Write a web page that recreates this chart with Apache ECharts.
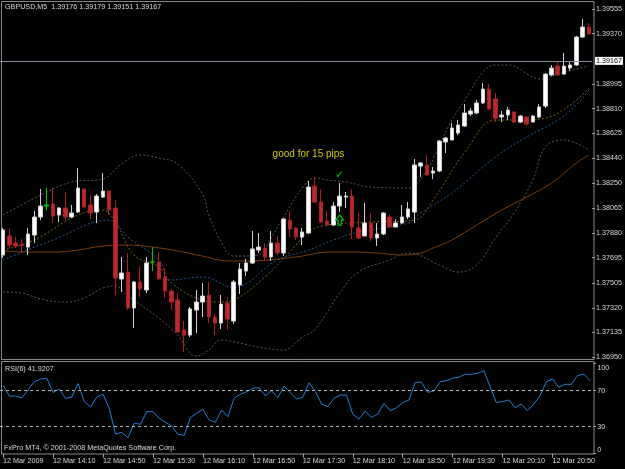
<!DOCTYPE html>
<html><head><meta charset="utf-8">
<script src="https://cdn.jsdelivr.net/npm/echarts@6/dist/echarts.min.js"></script>
<style>html,body{margin:0;padding:0;background:#000}#c{width:625px;height:469px}</style>
</head><body><div id="c"></div>
<script>
const open = [1.37715,1.37857,1.37804,1.37797,1.37774,1.37864,1.37999,1.38081,1.38096,1.38014,
1.38066,1.37999,1.38036,1.38208,1.38089,1.38036,1.38148,1.38193,1.38066,1.37535,
1.37587,1.37318,1.37513,1.37453,1.37662,1.37662,1.37550,1.37445,1.37378,1.37154,
1.37116,1.37303,1.37363,1.37415,1.37251,1.37206,1.37356,1.37221,1.37490,1.37595,
1.37655,1.37752,1.37767,1.37700,1.37804,1.37730,1.37976,1.37917,1.37849,1.37879,
1.38231,1.38111,1.37969,1.37939,1.38081,1.38148,1.38156,1.37917,1.37857,1.37954,
1.37842,1.37872,1.37999,1.37924,1.37954,1.37999,1.38036,1.38380,1.38388,1.38328,
1.38343,1.38560,1.38575,1.38627,1.38679,1.38769,1.38777,1.38852,1.38956,1.38882,
1.38747,1.38762,1.38784,1.38709,1.38747,1.38709,1.38747,1.38829,1.39061,1.39128,
1.39068,1.39113,1.39136,1.39345,1.39420];
const close = [1.37902,1.37789,1.37782,1.37786,1.37872,1.37999,1.38081,1.38089,1.38006,1.38066,
1.37999,1.38029,1.38216,1.38074,1.38029,1.38156,1.38193,1.38051,1.37543,1.37580,
1.37318,1.37513,1.37460,1.37655,1.37662,1.37535,1.37445,1.37363,1.37139,1.37116,
1.37311,1.37363,1.37408,1.37251,1.37206,1.37348,1.37236,1.37513,1.37610,1.37655,
1.37760,1.37774,1.37700,1.37804,1.37730,1.37984,1.37909,1.37849,1.37887,1.38223,
1.38111,1.37961,1.37939,1.38081,1.38156,1.38156,1.37924,1.37842,1.37954,1.37842,
1.37872,1.38029,1.37924,1.37954,1.37999,1.38059,1.38388,1.38403,1.38313,1.38343,
1.38567,1.38590,1.38665,1.38687,1.38777,1.38792,1.38852,1.38956,1.38807,1.38739,
1.38762,1.38799,1.38709,1.38754,1.38694,1.38754,1.38822,1.39068,1.39113,1.39061,
1.39128,1.39136,1.39345,1.39420,1.39368];
const low = [1.37692,1.37767,1.37767,1.37730,1.37715,1.37804,1.37976,1.38051,1.37954,1.37961,
1.37976,1.37991,1.38029,1.38066,1.37984,1.37954,1.38141,1.38014,1.37415,1.37438,
1.37303,1.37169,1.37400,1.37430,1.37595,1.37535,1.37393,1.37303,1.37131,1.36989,
1.37101,1.37131,1.37251,1.37206,1.37116,1.37161,1.37154,1.37199,1.37423,1.37558,
1.37647,1.37730,1.37670,1.37670,1.37715,1.37707,1.37849,1.37827,1.37789,1.37872,
1.38104,1.37954,1.37931,1.37931,1.38036,1.38066,1.37834,1.37834,1.37857,1.37819,
1.37782,1.37864,1.37917,1.37924,1.37946,1.37984,1.37954,1.38298,1.38313,1.38283,
1.38335,1.38478,1.38575,1.38612,1.38672,1.38754,1.38769,1.38844,1.38799,1.38709,
1.38709,1.38724,1.38702,1.38702,1.38679,1.38709,1.38739,1.38814,1.39053,1.39061,
1.39061,1.39091,1.39128,1.39338,1.39368];
const high = [1.37917,1.37917,1.37849,1.37834,1.37917,1.38044,1.38208,1.38216,1.38216,1.38074,
1.38186,1.38089,1.38365,1.38216,1.38163,1.38171,1.38328,1.38201,1.38126,1.37700,
1.37730,1.37520,1.37632,1.37700,1.37774,1.37737,1.37617,1.37460,1.37430,1.37221,
1.37326,1.37453,1.37505,1.37513,1.37273,1.37415,1.37400,1.37528,1.37655,1.37685,
1.37894,1.37879,1.37804,1.37894,1.37857,1.37991,1.38044,1.37924,1.37917,1.38268,
1.38298,1.38208,1.38044,1.38111,1.38253,1.38186,1.38208,1.38029,1.38104,1.38029,
1.37954,1.38036,1.38021,1.37984,1.38089,1.38111,1.38433,1.38410,1.38463,1.38373,
1.38575,1.38597,1.38702,1.38724,1.38844,1.38814,1.38874,1.39001,1.38994,1.38926,
1.38792,1.38822,1.38792,1.38762,1.38754,1.38762,1.38844,1.39076,1.39136,1.39158,
1.39226,1.39158,1.39353,1.39480,1.39450];
const greenBars = [7, 24];
const rsi = [76,64,64,62,70.8,80,83,83.8,68,72,
61.5,63,78,58,52,63,66,50.4,22,23.7,
17.8,33.8,32.7,46.7,46.7,39.3,34.9,30.8,21.6,20.4,
40,44.9,49.3,37.4,34.9,48.6,41.1,61.5,66,68.9,
72.7,73.3,64.4,70,62.2,75.2,67.8,60.8,62.7,78.9,
69.3,55.2,52.2,61.5,65.2,65.2,43.8,38.6,47.4,40.4,
44.1,56,47.8,51.1,56.7,59.7,79.3,79.3,68.2,69.7,
80,81.1,83.8,84.9,88.2,88.2,89.3,92.2,74.4,56.7,
57.8,59.7,51.1,55.2,47.8,55.2,64.4,80,83,73.8,
77.1,77.1,86.7,88.6,81.1];
// [bar index, price]
const maSlow = [[0,1.37745],[4,1.37737],[8,1.37737],[12,1.37752],[16,1.37782],[20,1.37789],[24,1.37774],[28,1.37745],[32,1.37707],[36,1.37670],[40,1.37670],[44,1.37685],[48,1.37707],[52,1.37737],[56,1.37737],[60,1.37730],[64,1.37715],[67,1.37730],[69,1.37767],[72,1.37827],[76,1.37939],[80,1.38051],[84,1.38148],[88,1.38253],[92,1.38403],[94,1.38463]];
const bandUpper = [[0,1.38014],[6,1.38163],[11,1.38261],[16,1.38283],[19,1.38395],[22,1.38463],[25,1.38440],[28,1.38395],[32,1.38171],[33,1.38014],[35,1.37812],[37,1.37707],[41,1.37715],[43,1.37842],[45,1.37999],[48,1.38216],[50,1.38291],[52,1.38276],[55,1.38261],[59,1.38223],[65,1.38216],[68,1.38350],[70,1.38537],[72,1.38724],[74,1.38867],[77,1.39083],[79,1.39136],[81,1.39136],[85,1.39046],[86,1.39031],[90,1.39083],[94,1.39128]];
const bandLower = [[0,1.37438],[3,1.37430],[6,1.37386],[10,1.37363],[13,1.37393],[16,1.37468],[18,1.37483],[20,1.37408],[25,1.37243],[28,1.37116],[31,1.36959],[33,1.37004],[35,1.37079],[38,1.37056],[41,1.37026],[45,1.37004],[48,1.37101],[50,1.37154],[54,1.37430],[57,1.37587],[62,1.37677],[65,1.37730],[70,1.37640],[73,1.37587],[76,1.37640],[79,1.37842],[82,1.38029],[85,1.38276],[87,1.38522],[90,1.38575],[94,1.38500]];
const innerGold = [[0,1.37752],[5,1.37827],[12,1.38014],[16,1.38051],[18,1.37961],[21,1.37715],[25,1.37625],[27,1.37505],[32,1.37378],[35,1.37363],[37,1.37378],[42,1.37550],[46,1.37737],[49,1.37887],[52,1.37939],[59,1.37961],[66,1.37976],[69,1.38126],[74,1.38478],[79,1.38724],[83,1.38724],[87,1.38739],[91,1.38837],[94,1.38964]];
const innerBlue = [[0,1.37677],[8,1.37827],[17,1.37976],[20,1.37849],[25,1.37677],[27,1.37528],[32,1.37550],[37,1.37475],[44,1.37677],[49,1.37752],[53,1.37827],[57,1.37887],[65,1.37954],[67,1.38029],[72,1.38178],[79,1.38448],[84,1.38597],[89,1.38724],[92,1.38837],[94,1.38949]];
const priceTicks = [1.39555,1.39370,1.38995,1.38810,1.38625,1.38440,1.38250,1.38065,1.37880,1.37695,1.37505,1.37320,1.37135,1.36950];
const currentPrice = 1.39167;
const rsiTicks = [0,30,70,100];
const rsiLevels = [70,30];
const timeTickLabels = ['12 Mar 2009','12 Mar 14:10','12 Mar 14:50','12 Mar 15:30','12 Mar 16:10','12 Mar 16:50','12 Mar 17:30','12 Mar 18:10','12 Mar 18:50','12 Mar 19:30','12 Mar 20:10','12 Mar 20:50'];
const note = {text:'good for 15 pips', bar:49, price:1.38470};
const check = {bar:54, price:1.38313};
const arrow = {bar:54, price:1.37976};

const startMin = 13*60+30;
const categories = open.map((_, i) => {
  const m = startMin + 5*i; const h = Math.floor(m/60), mm = m%60;
  return h + ':' + (mm<10?'0':'') + mm;
});
const FONT = 'Liberation Sans';
const TXT = '#dcdcdc';
const FRAME = '#8a8a8a';
const green = '#00cc00';
const candleData = open.map((o, i) => {
  const it = {value:[o, close[i], low[i], high[i]]};
  if (greenBars.includes(i)) it.itemStyle = {color:green, color0:green, borderColor:green, borderColor0:green};
  return it;
});
const every8 = (idx) => idx % 8 === 0;
const gridLeft = -0.6, gridW = 593.75;

const chart = echarts.init(document.getElementById('c'), null, {renderer:'canvas'});
const dotted = (data, color) => ({type:'line', xAxisIndex:0, yAxisIndex:0, data, smooth:0.4, symbol:'none', z:2,
  lineStyle:{color, width:1, type:[2,2]}, silent:true});
chart.setOption({
  backgroundColor:'#000',
  animation:false,
  grid:[
    {left:gridLeft, top:2, width:gridW, height:357.5},
    {left:gridLeft, top:363.7, width:gridW, height:90}
  ],
  xAxis:[
    {gridIndex:0, type:'category', data:categories, boundaryGap:true, show:false},
    {gridIndex:1, type:'category', data:categories, boundaryGap:true,
     axisLine:{show:false},
     axisTick:{show:true, interval:every8, alignWithLabel:true, length:4, lineStyle:{color:'#a0a0a0'}},
     axisLabel:{interval:every8, align:'left', margin:4, color:TXT, fontSize:7.2, fontFamily:FONT,
       formatter:(v, idx) => timeTickLabels[Math.round(idx/8)] || ''}}
  ],
  yAxis:[
    {gridIndex:0, type:'value', position:'right', min:1.369332, max:1.396073,
     splitLine:{show:false}, axisLine:{show:false},
     axisTick:{show:true, customValues:priceTicks, length:3, lineStyle:{color:'#a0a0a0'}},
     axisLabel:{customValues:priceTicks, formatter:v => v.toFixed(5), margin:4, color:TXT, fontSize:7.2, fontFamily:FONT}},
    {gridIndex:1, type:'value', position:'right', min:0, max:100,
     splitLine:{show:false}, axisLine:{show:false},
     axisTick:{show:true, customValues:rsiTicks, length:3, lineStyle:{color:'#a0a0a0'}},
     axisLabel:{customValues:rsiTicks, margin:4, color:TXT, fontSize:7.2, fontFamily:FONT,
       formatter:v => v===100 ? '{a|100}' : (v===0 ? '{b|0}' : String(v)),
       rich:{a:{padding:[8,0,0,0], color:TXT, fontSize:7.2, fontFamily:FONT}, b:{padding:[0,0,7,0], color:TXT, fontSize:7.2, fontFamily:FONT}}}}
  ],
  series:[
    dotted(bandUpper, '#5a5a5a'),
    dotted(bandLower, '#5a5a5a'),
    dotted(innerGold, '#7d6420'),
    dotted(innerBlue, '#245a96'),
    {type:'line', xAxisIndex:0, yAxisIndex:0, data:maSlow, smooth:0.4, symbol:'none', z:2, silent:true,
     lineStyle:{color:'#7a3c12', width:1},
     markLine:{silent:true, symbol:['none','none'], animation:false, precision:5, z:4,
       lineStyle:{color:'#8c8ca0', type:'solid', width:1},
       label:{show:true, position:'end', distance:3, formatter:() => currentPrice.toFixed(5),
         backgroundColor:'#ffffff', color:'#000', padding:[1,1,0,1], fontSize:7.2, fontFamily:FONT},
       data:[{yAxis:currentPrice}]}},
    {type:'candlestick', xAxisIndex:0, yAxisIndex:0, data:candleData, barWidth:4, z:3,
     itemStyle:{color:'#ffffff', color0:'#c0262a', borderColor:'#d0d0d0', borderColor0:'#a82020', borderWidth:1},
     markPoint:{silent:true, animation:false, data:[
       {coord:[note.bar, note.price], symbol:'rect', symbolSize:1, itemStyle:{color:'transparent'},
        label:{show:true, position:'inside', formatter:note.text, color:'#cccc00', fontSize:10, fontFamily:FONT}},
       {coord:[check.bar, check.price], symbol:'rect', symbolSize:1, itemStyle:{color:'transparent'},
        label:{show:true, position:'inside', formatter:'\u2713', color:green, fontSize:11, fontWeight:'bold', fontFamily:'DejaVu Sans'}},
       {coord:[arrow.bar, arrow.price], symbol:'path://M5,0 L10,5 L7,5 L7,10 L3,10 L3,5 L0,5 Z', symbolSize:[8,10],
        itemStyle:{color:'transparent', borderColor:green, borderWidth:1.2}, label:{show:false}}
     ]}},
    {type:'line', xAxisIndex:1, yAxisIndex:1, data:rsi, symbol:'none', silent:true,
     lineStyle:{color:'#2a7fd6', width:1},
     markLine:{silent:true, symbol:['none','none'], animation:false, label:{show:false},
       lineStyle:{color:'#b4b4b4', type:[3,3], width:1},
       data:rsiLevels.map(v => ({yAxis:v}))}}
  ],
  graphic:[
    {type:'rect', shape:{x:1.5, y:1.5, width:592.5, height:358}, style:{fill:null, stroke:FRAME, lineWidth:1}, silent:true},
    {type:'rect', shape:{x:1.5, y:361.5, width:592.5, height:92.5}, style:{fill:null, stroke:FRAME, lineWidth:1}, silent:true},
    {type:'text', left:5, top:4, style:{text:'GBPUSD,M5  1.39176 1.39179 1.39151 1.39167', fill:TXT, fontSize:7.2, fontFamily:FONT}, silent:true},
    {type:'text', left:5, top:366, style:{text:'RSI(6) 41.9207', fill:TXT, fontSize:7.2, fontFamily:FONT}, silent:true},
    {type:'text', left:4, top:445, style:{text:'FxPro MT4, \u00a9 2001-2008 MetaQuotes Software Corp.', fill:TXT, fontSize:7.2, fontFamily:FONT}, silent:true}
  ]
});
</script>
</body></html>
